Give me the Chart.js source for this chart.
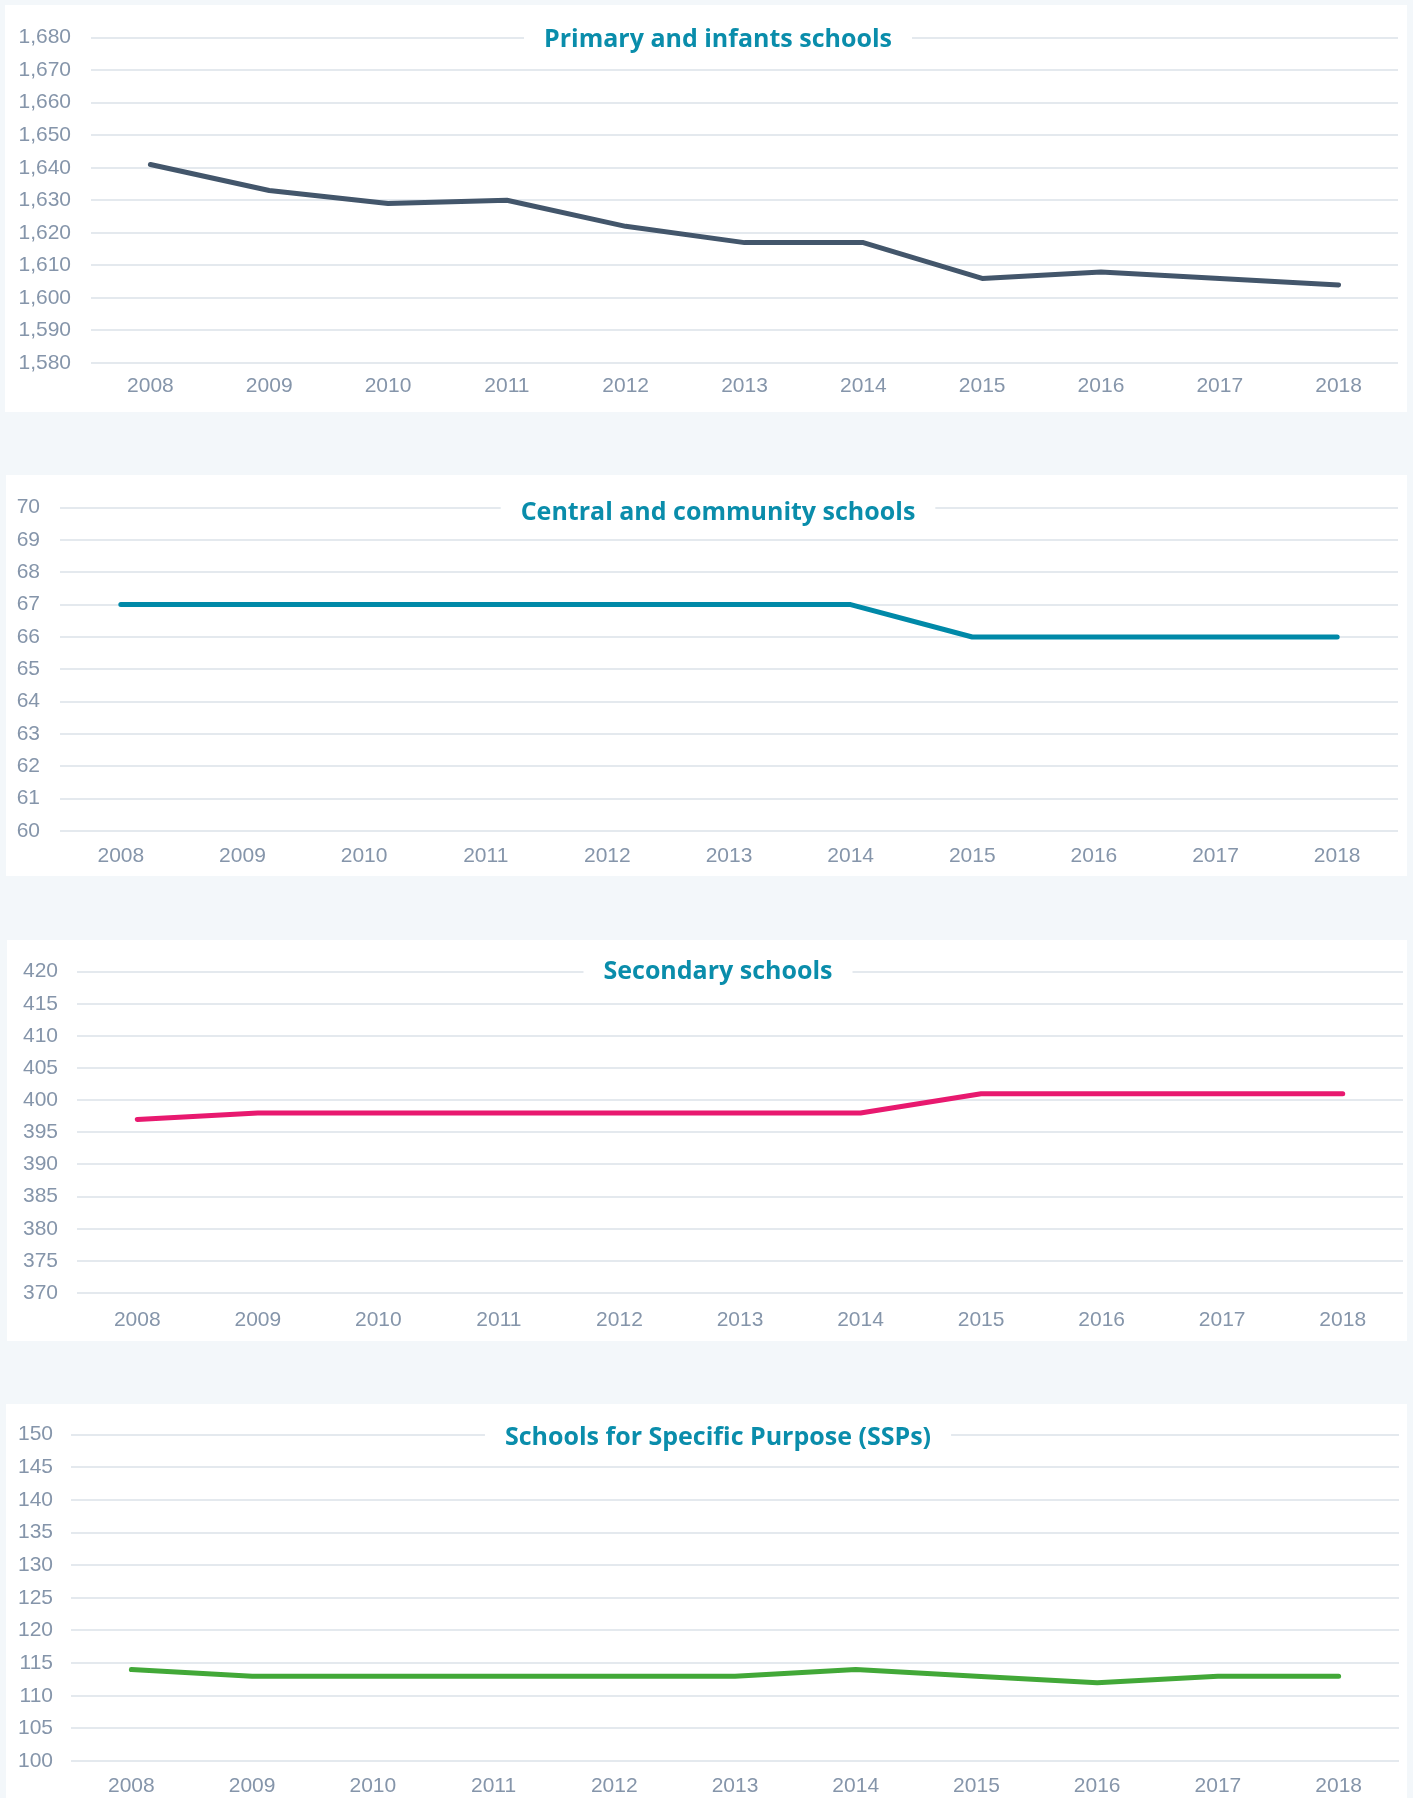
<!DOCTYPE html>
<html>
<head>
<meta charset="utf-8">
<script src="https://cdn.jsdelivr.net/npm/chart.js@4.4.1/dist/chart.umd.min.js"></script>
<style>
  body { margin: 0; background: #f3f7fa; width: 1413px; height: 1798px; position: relative; overflow: hidden; }
  .panel { position: absolute; background: #fff; }
  canvas { display: block; }
</style>
</head>
<body>
<div class="panel" id="p0"><canvas id="c0"></canvas></div>
<div class="panel" id="p1"><canvas id="c1"></canvas></div>
<div class="panel" id="p2"><canvas id="c2"></canvas></div>
<div class="panel" id="p3"><canvas id="c3"></canvas></div>
<script>
const years = ['2008', '2009', '2010', '2011', '2012', '2013', '2014', '2015', '2016', '2017', '2018'];

const primarySchools = [1641, 1633, 1629, 1630, 1622, 1617, 1617, 1606, 1608, 1606, 1604];
const centralSchools = [67, 67, 67, 67, 67, 67, 67, 66, 66, 66, 66];
const secondarySchools = [397, 398, 398, 398, 398, 398, 398, 401, 401, 401, 401];
const sspSchools = [114, 113, 113, 113, 113, 113, 114, 113, 112, 113, 113];

const titles = [
    'Primary and infants schools',
    'Central and community schools',
    'Secondary schools',
    'Schools for Specific Purpose (SSPs)'
];

// y ranges and steps
const yMin = [1580, 60, 370, 100];
const yMax = [1680, 70, 420, 150];
const yStep = [10, 1, 5, 5];

const series = [primarySchools, centralSchools, secondarySchools, sspSchools];
const colors = ['#43566b', '#0089a8', '#e8196f', '#42a838'];

// panel boxes and chart area inside each panel (page px)
const panels = [
    { x: 5, y: 5, w: 1402, h: 407, left: 91, right: 1398, top: 35, bottom: 363, lblPad: 20, xPad: 3, tTop: 9 },
    { x: 6, y: 475, w: 1401, h: 401, left: 60, right: 1398, top: 502, bottom: 831, lblPad: 20, xPad: 5, tTop: 12 },
    { x: 7, y: 940, w: 1400, h: 401, left: 77, right: 1403, top: 969, bottom: 1293, lblPad: 19, xPad: 7, tTop: 7 },
    { x: 6, y: 1404, w: 1401, h: 394, left: 71, right: 1399, top: 1433, bottom: 1761, lblPad: 18, xPad: 5, tTop: 10 }
];

const titlePlugin = {
    id: 'gridTitle',
    afterDraw(chart, args, opts) {
        const ctx = chart.ctx;
        const y = chart.scales.y.getPixelForValue(opts.top);
        ctx.save();
        ctx.font = 'bold 25px "Open Sans"';
        const w = ctx.measureText(opts.text).width;
        const cx = opts.cx;
        ctx.fillStyle = '#fff';
        ctx.fillRect(cx - w / 2 - 20, y - 4, w + 40, 8);
        ctx.fillStyle = '#0a8dab';
        ctx.textAlign = 'center';
        ctx.textBaseline = 'alphabetic';
        ctx.fillText(opts.text, cx, y + opts.dy);
        ctx.restore();
    }
};

panels.forEach((p, i) => {
    const div = document.getElementById('p' + i);
    div.style.left = p.x + 'px';
    div.style.top = p.y + 'px';
    div.style.width = p.w + 'px';
    div.style.height = p.h + 'px';
    const canvas = document.getElementById('c' + i);
    canvas.width = p.w;
    canvas.height = p.h;

    const yWidth = p.left - p.x;
    const xHeight = (p.y + p.h) - p.bottom;

    new Chart(canvas, {
        type: 'line',
        data: {
            labels: years,
            datasets: [{
                data: series[i],
                borderColor: colors[i],
                borderWidth: 5,
                pointRadius: 0,
                tension: 0,
                borderCapStyle: 'round',
                borderJoinStyle: 'round'
            }]
        },
        options: {
            responsive: false,
            animation: false,
            devicePixelRatio: 1,
            layout: { padding: { top: p.top - p.y, right: (p.x + p.w) - p.right, left: 0, bottom: 0 } },
            plugins: {
                legend: { display: false },
                tooltip: { enabled: false },
                gridTitle: { text: titles[i], top: yMax[i], cx: 718 - p.x, dy: p.tTop }
            },
            scales: {
                x: {
                    offset: true,
                    grid: { display: false },
                    border: { display: false },
                    ticks: { color: '#8595aa', font: { family: '"Liberation Sans", Arial', size: 21 }, padding: p.xPad, maxRotation: 0 },
                    afterFit: s => { s.height = xHeight; }
                },
                y: {
                    min: yMin[i],
                    max: yMax[i],
                    grid: { color: '#e4e9ee', lineWidth: 2, drawTicks: false },
                    border: { display: false },
                    ticks: {
                        stepSize: yStep[i],
                        color: '#8595aa',
                        font: { family: '"Liberation Sans", Arial', size: 21 },
                        padding: p.lblPad,
                        callback: v => v.toLocaleString('en-US')
                    },
                    afterFit: s => { s.width = yWidth; }
                }
            }
        },
        plugins: [titlePlugin]
    });
});
</script>
</body>
</html>
